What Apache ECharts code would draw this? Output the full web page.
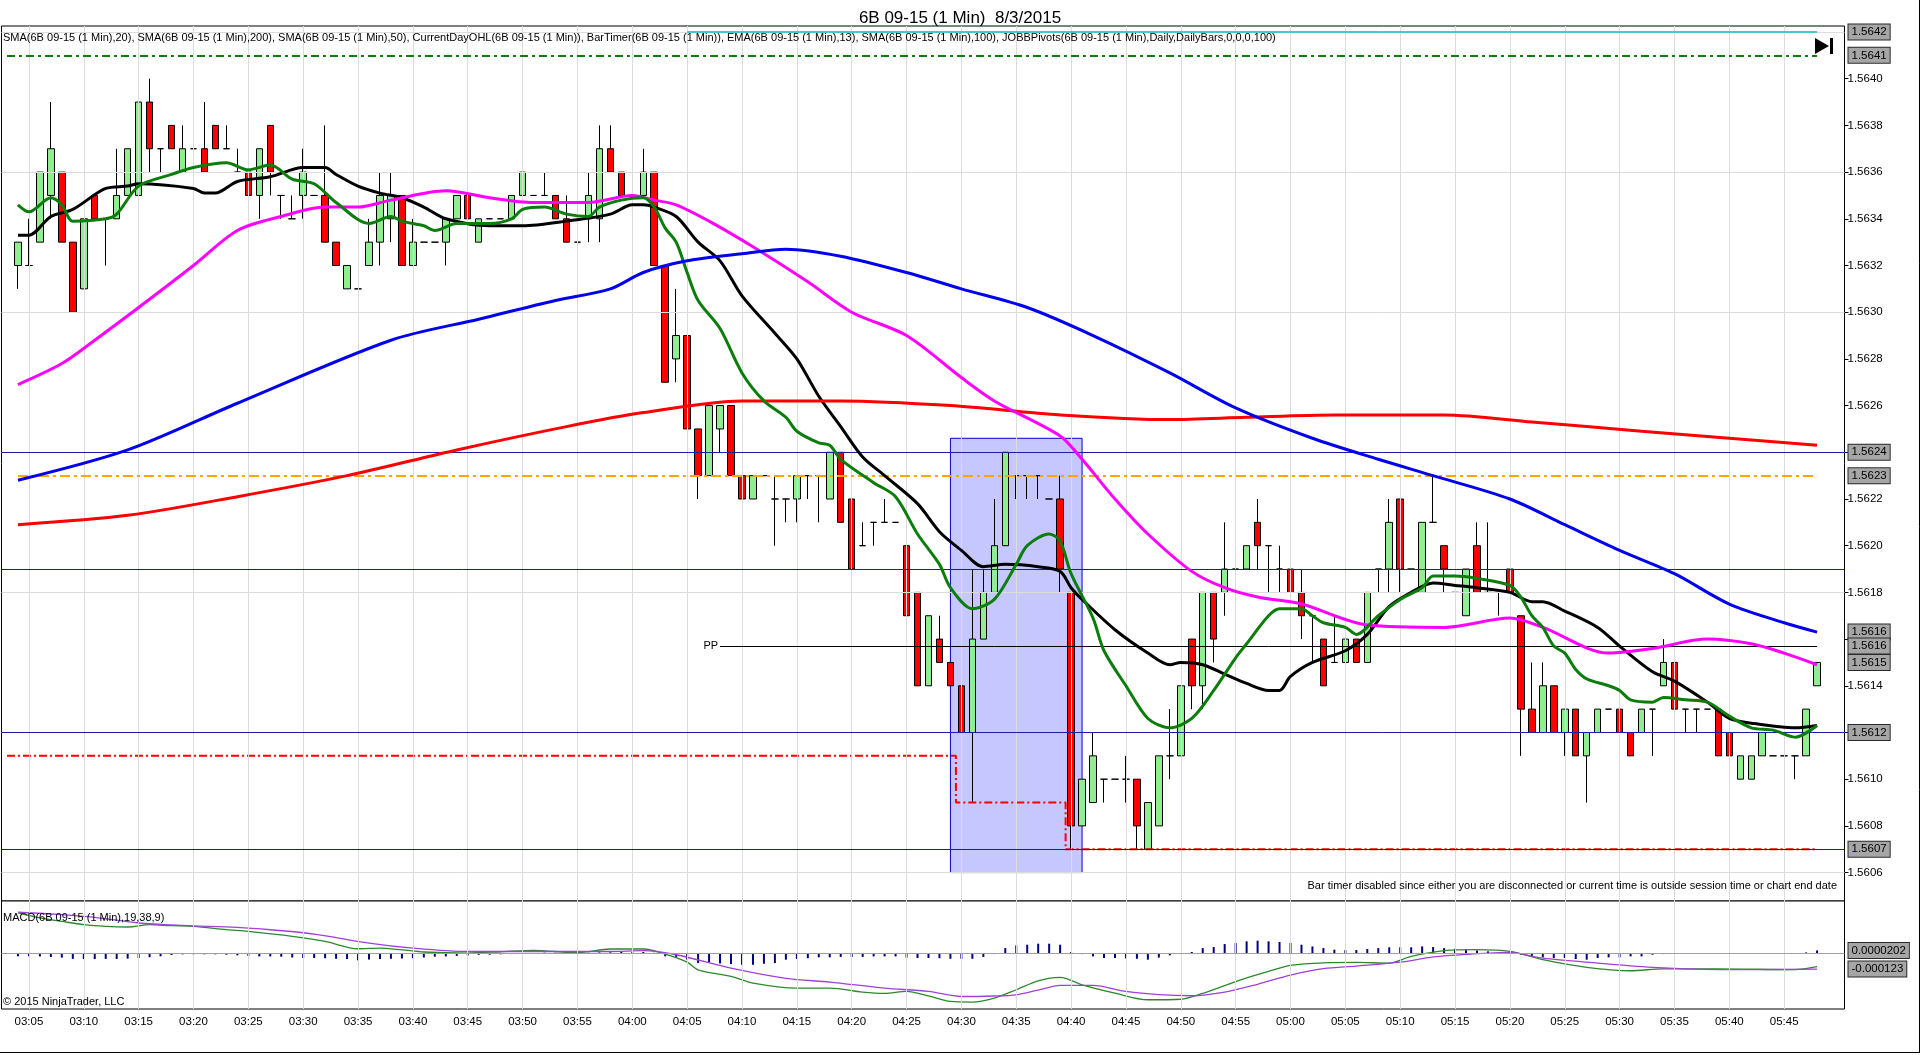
<!DOCTYPE html>
<html><head><meta charset="utf-8">
<script src="https://cdn.jsdelivr.net/npm/echarts@6/dist/echarts.min.js"></script>
<style>html,body{margin:0;padding:0;background:#fff}#c{width:1920px;height:1055px}</style>
</head><body><div id="c"></div>
<script>
// ---------- categories (one empty slot before, two after the bars) ----------
const times = ['03:03','03:04','03:05','03:06','03:07','03:08','03:09',
'03:10','03:11','03:12','03:13','03:14','03:15','03:16','03:17','03:18','03:19',
'03:20','03:21','03:22','03:23','03:24','03:25','03:26','03:27','03:28','03:29',
'03:30','03:31','03:32','03:33','03:34','03:35','03:36','03:37','03:38','03:39',
'03:40','03:41','03:42','03:43','03:44','03:45','03:46','03:47','03:48','03:49',
'03:50','03:51','03:52','03:53','03:54','03:55','03:56','03:57','03:58','03:59',
'04:00','04:01','04:02','04:03','04:04','04:05','04:06','04:07','04:08','04:09',
'04:10','04:11','04:12','04:13','04:14','04:15','04:16','04:17','04:18','04:19',
'04:20','04:21','04:22','04:23','04:24','04:25','04:26','04:27','04:28','04:29',
'04:30','04:31','04:32','04:33','04:34','04:35','04:36','04:37','04:38','04:39',
'04:40','04:41','04:42','04:43','04:44','04:45','04:46','04:47','04:48','04:49',
'04:50','04:51','04:52','04:53','04:54','04:55','04:56','04:57','04:58','04:59',
'05:00','05:01','05:02','05:03','05:04','05:05','05:06','05:07','05:08','05:09',
'05:10','05:11','05:12','05:13','05:14','05:15','05:16','05:17','05:18','05:19',
'05:20','05:21','05:22','05:23','05:24','05:25','05:26','05:27','05:28','05:29',
'05:30','05:31','05:32','05:33','05:34','05:35','05:36','05:37','05:38','05:39',
'05:40','05:41','05:42','05:43','05:44','05:45','05:46','05:47','05:48','05:49','05:50'];
const timeLabels = ['03:05','03:10','03:15','03:20','03:25','03:30','03:35','03:40','03:45','03:50','03:55',
'04:00','04:05','04:10','04:15','04:20','04:25','04:30','04:35','04:40','04:45','04:50','04:55',
'05:00','05:05','05:10','05:15','05:20','05:25','05:30','05:35','05:40','05:45'];
const OFF = 1; // bar index 0 (03:04) sits on category 1

// ---------- bars: [open, high, low, close], 03:04 .. 05:48 ----------
const ohlc = [
[1.5632,1.5633,1.5631,1.5633],
[1.5632,1.5634,1.5632,1.5632],[1.5633,1.5636,1.5633,1.5636],[1.5635,1.5639,1.5634,1.5637],[1.5636,1.5636,1.5633,1.5633],[1.5633,1.5633,1.5630,1.5630],
[1.5631,1.5634,1.5631,1.5634],[1.5635,1.5635,1.5634,1.5634],[1.5634,1.5634,1.5632,1.5634],[1.5634,1.5637,1.5634,1.5635],[1.5635,1.5637,1.5635,1.5637],
[1.5635,1.5639,1.5635,1.5639],[1.5639,1.5640,1.5636,1.5637],[1.5637,1.5637,1.5636,1.5637],[1.5638,1.5638,1.5637,1.5637],[1.5636,1.5638,1.5636,1.5637],
[1.5637,1.5639,1.5636,1.5637],[1.5637,1.5639,1.5636,1.5636],[1.5638,1.5638,1.5637,1.5637],[1.5637,1.5638,1.5637,1.5637],[1.5636,1.5637,1.5636,1.5636],
[1.5636,1.5636,1.5635,1.5635],[1.5635,1.5637,1.5634,1.5637],[1.5638,1.5638,1.5635,1.5636],[1.5635,1.5635,1.5634,1.5635],[1.5634,1.5635,1.5634,1.5634],
[1.5635,1.5637,1.5634,1.5636],[1.5635,1.5635,1.5635,1.5635],[1.5635,1.5638,1.5633,1.5633],[1.5633,1.5633,1.5632,1.5632],[1.5631,1.5632,1.5631,1.5632],
[1.5631,1.5631,1.5631,1.5631],[1.5632,1.5634,1.5632,1.5633],[1.5633,1.5636,1.5632,1.5635],[1.5634,1.5636,1.5633,1.5635],[1.5635,1.5635,1.5632,1.5632],
[1.5632,1.5634,1.5632,1.5633],[1.5633,1.5633,1.5633,1.5633],[1.5633,1.5633,1.5633,1.5633],[1.5633,1.5634,1.5632,1.5634],[1.5634,1.5635,1.5634,1.5635],
[1.5635,1.5635,1.5634,1.5634],[1.5633,1.5634,1.5633,1.5634],[1.5634,1.5634,1.5634,1.5634],[1.5634,1.5634,1.5634,1.5634],[1.5634,1.5635,1.5634,1.5635],
[1.5635,1.5636,1.5635,1.5636],[1.5635,1.5635,1.5635,1.5635],[1.5635,1.5636,1.5635,1.5635],[1.5635,1.5635,1.5634,1.5634],[1.5634,1.5635,1.5633,1.5633],
[1.5633,1.5633,1.5632,1.5633],[1.5634,1.5636,1.5633,1.5635],[1.5634,1.5638,1.5633,1.5637],[1.5637,1.5638,1.5636,1.5636],[1.5636,1.5636,1.5635,1.5635],
[1.5635,1.5637,1.5633,1.5635],[1.5635,1.5637,1.5635,1.5636],[1.5636,1.5636,1.5632,1.5632],[1.5632,1.5632,1.5627,1.5627],[1.5628,1.5631,1.5627,1.5629],
[1.5629,1.5629,1.5625,1.5625],[1.5625,1.5625,1.5622,1.5623],[1.5623,1.5626,1.5623,1.5626],[1.5625,1.5626,1.5624,1.5626],[1.5626,1.5626,1.5623,1.5623],
[1.5623,1.5623,1.5622,1.5622],[1.5622,1.5623,1.5622,1.5623],[1.5623,1.5623,1.5623,1.5623],[1.5622,1.5623,1.5620,1.5622],[1.5622,1.5622,1.5621,1.5622],
[1.5622,1.5623,1.5621,1.5623],[1.5623,1.5623,1.5622,1.5623],[1.5623,1.5623,1.5621,1.5623],[1.5622,1.5624,1.5622,1.5624],[1.5624,1.5624,1.5621,1.5621],
[1.5622,1.5622,1.5619,1.5619],[1.5620,1.5621,1.5620,1.5620],[1.5621,1.5621,1.5620,1.5621],[1.5621,1.5622,1.5621,1.5621],[1.5621,1.5621,1.5621,1.5621],
[1.5620,1.5620,1.5617,1.5617],[1.5618,1.5618,1.5614,1.5614],[1.5614,1.5617,1.5614,1.5617],[1.5616,1.5617,1.5615,1.5615],[1.5615,1.5615,1.5614,1.5614],
[1.5614,1.5616,1.5609,1.5612],[1.5612,1.5619,1.5609,1.5616],[1.5616,1.5619,1.5616,1.5618],[1.5618,1.5622,1.5618,1.5620],[1.5620,1.5624,1.5620,1.5624],
[1.5623,1.5623,1.5622,1.5623],[1.5623,1.5623,1.5622,1.5623],[1.5623,1.5623,1.5622,1.5623],[1.5622,1.5622,1.5622,1.5622],[1.5622,1.5623,1.5618,1.5619],
[1.5618,1.5618,1.5607,1.5608],[1.5608,1.5610,1.5608,1.5610],[1.5609,1.5612,1.5609,1.5611],[1.5610,1.5610,1.5609,1.5610],[1.5610,1.5610,1.5610,1.5610],
[1.5610,1.5611,1.5609,1.5610],[1.5610,1.5610,1.5607,1.5608],[1.5607,1.5609,1.5607,1.5609],[1.5608,1.5611,1.5608,1.5611],[1.5611,1.5613,1.5610,1.5611],
[1.5611,1.5614,1.5611,1.5614],[1.5616,1.5616,1.5613,1.5614],[1.5614,1.5618,1.5613,1.5618],[1.5618,1.5618,1.5615,1.5616],[1.5618,1.5621,1.5617,1.5619],
[1.5619,1.5619,1.5617,1.5619],[1.5619,1.5620,1.5619,1.5620],[1.5621,1.5622,1.5619,1.5620],[1.5620,1.5620,1.5618,1.5620],[1.5619,1.5620,1.5618,1.5619],
[1.5619,1.5620,1.5618,1.5618],[1.5618,1.5619,1.5616,1.5617],[1.5617,1.5617,1.5615,1.5617],[1.5616,1.5616,1.5614,1.5614],[1.5615,1.5617,1.5615,1.5615],
[1.5615,1.5617,1.5615,1.5616],[1.5616,1.5616,1.5615,1.5615],[1.5615,1.5618,1.5615,1.5618],[1.5619,1.5619,1.5618,1.5619],[1.5619,1.5622,1.5618,1.5621],
[1.5622,1.5622,1.5618,1.5619],[1.5619,1.5619,1.5619,1.5619],[1.5618,1.5621,1.5618,1.5621],[1.5621,1.5623,1.5621,1.5621],[1.5620,1.5620,1.5618,1.5619],
[1.5618,1.5618,1.5618,1.5618],[1.5617,1.5619,1.5617,1.5619],[1.5620,1.5621,1.5618,1.5618],[1.5618,1.5621,1.5618,1.5618],[1.5618,1.5618,1.5617,1.5618],
[1.5619,1.5619,1.5618,1.5618],[1.5617,1.5617,1.5611,1.5613],[1.5613,1.5615,1.5612,1.5612],[1.5612,1.5615,1.5612,1.5614],[1.5614,1.5614,1.5612,1.5612],
[1.5612,1.5613,1.5611,1.5613],[1.5613,1.5613,1.5611,1.5611],[1.5611,1.5612,1.5609,1.5612],[1.5612,1.5613,1.5612,1.5613],[1.5613,1.5613,1.5613,1.5613],
[1.5613,1.5613,1.5610,1.5612],[1.5612,1.5612,1.5611,1.5611],[1.5612,1.5613,1.5612,1.5613],[1.5613,1.5613,1.5611,1.5613],[1.5614,1.5616,1.5614,1.5615],
[1.5615,1.5615,1.5613,1.5613],[1.5613,1.5613,1.5612,1.5613],[1.5613,1.5613,1.5612,1.5613],[1.5613,1.5613,1.5613,1.5613],[1.5613,1.5613,1.5611,1.5611],
[1.5612,1.5612,1.5610,1.5611],[1.5610,1.5611,1.5610,1.5611],[1.5610,1.5611,1.5610,1.5611],[1.5611,1.5612,1.5611,1.5612],[1.5611,1.5611,1.5611,1.5611],
[1.5611,1.5611,1.5611,1.5611],[1.5611,1.5611,1.5610,1.5611],[1.5611,1.5613,1.5611,1.5613],[1.5614,1.5615,1.5614,1.5615]
];

// ---------- moving averages: [bar index, price] ----------
const sma20 = [[0,1.56333],[1,1.56333],[3,1.56341],[5,1.56344],[8,1.56353],[10,1.56354],[11,1.56355],[16,1.56353],[17,1.56351],[18,1.56351],[20,1.56356],[23,1.56358],[26,1.56362],[28,1.56362],[29,1.56359],[31,1.56354],[33,1.56351],[35,1.56349],[37,1.56345],[39,1.5634],[43,1.56337],[46,1.56337],[50,1.56339],[54,1.56342],[56,1.56346],[57,1.56346],[58,1.56345],[60,1.56341],[62,1.5633],[64,1.56322],[66,1.56307],[69,1.56291],[71,1.5628],[73,1.56264],[75,1.56251],[77,1.56238],[79,1.5623],[82,1.56218],[84,1.56206],[86,1.56198],[88,1.56191],[90,1.56192],[93,1.56191],[95,1.56189],[96,1.56182],[97,1.56177],[100,1.56164],[103,1.56154],[105,1.56149],[106,1.5615],[108,1.56149],[110,1.56145],[112,1.56141],[114,1.56138],[115,1.56138],[116,1.56144],[118,1.5615],[121,1.56155],[123,1.56162],[125,1.56174],[127,1.5618],[129,1.56184],[131,1.56183],[133,1.56182],[136,1.5618],[138,1.56176],[139,1.56176],[141,1.56172],[144,1.56165],[146,1.56157],[149,1.56146],[151,1.56142],[154,1.56133],[156,1.56126],[158,1.56124],[162,1.56122],[164,1.56123]];
const sma200 = [[0,1.56209],[10,1.56213],[20,1.56221],[30,1.5623],[40,1.56241],[50,1.56251],[57,1.56257],[66,1.56262],[75,1.56262],[85,1.5626],[95,1.56256],[105,1.56254],[112,1.56255],[120,1.56256],[130,1.56256],[138,1.56253],[148,1.56249],[156,1.56246],[164,1.56243]];
const sma50 = [[0,1.56269],[4,1.56278],[7,1.56288],[11,1.56302],[16,1.5632],[20,1.56335],[24,1.56341],[28,1.56345],[31,1.56345],[34,1.56348],[39,1.56352],[43,1.56349],[47,1.56347],[52,1.56347],[56,1.5635],[58,1.56348],[60,1.56346],[63,1.56339],[67,1.56328],[72,1.56313],[76,1.563],[81,1.5629],[86,1.56272],[89,1.56262],[95,1.56247],[97,1.56237],[100,1.5622],[103,1.56205],[107,1.56189],[110,1.56182],[113,1.56178],[117,1.56175],[123,1.56166],[130,1.56165],[136,1.56169],[139,1.56165],[145,1.56154],[149,1.56156],[154,1.5616],[158,1.56158],[161,1.56154],[164,1.56149]];
const ema13 = [[0,1.56346],[1,1.56343],[3,1.56349],[4,1.56346],[5,1.56339],[8,1.5634],[9,1.56342],[11,1.56354],[14,1.56359],[16,1.56362],[19,1.56364],[21,1.56361],[23,1.56363],[25,1.56357],[27,1.56355],[29,1.56347],[32,1.56338],[34,1.56341],[35,1.56339],[37,1.56337],[38,1.56335],[40,1.56338],[43,1.56338],[45,1.5634],[46,1.56344],[48,1.56345],[50,1.56342],[52,1.56341],[53,1.56345],[55,1.56348],[57,1.56349],[58,1.56345],[59,1.56336],[60,1.5633],[61,1.56317],[62,1.56305],[64,1.56293],[66,1.56274],[68,1.56262],[70,1.56255],[71,1.56249],[73,1.56244],[74,1.56243],[75,1.56237],[78,1.56227],[80,1.56221],[82,1.56205],[84,1.56192],[85,1.56182],[87,1.56173],[89,1.56177],[91,1.56192],[92,1.562],[94,1.56205],[95,1.56202],[96,1.56188],[98,1.56169],[99,1.56155],[101,1.5614],[103,1.56126],[105,1.56122],[107,1.56126],[109,1.56138],[111,1.56152],[112,1.56158],[114,1.5617],[115,1.56173],[117,1.56173],[118,1.5617],[119,1.56167],[121,1.56165],[122,1.56162],[124,1.5617],[126,1.56177],[128,1.56182],[129,1.56187],[131,1.56187],[133,1.56186],[136,1.56183],[137,1.56178],[138,1.5617],[139,1.56165],[140,1.56157],[141,1.56154],[142,1.56147],[143,1.56143],[145,1.5614],[146,1.56138],[147,1.56134],[149,1.56133],[150,1.56135],[152,1.56134],[154,1.56133],[156,1.56127],[158,1.56122],[160,1.56121],[162,1.56118],[164,1.56123]];
const sma100 = [[0,1.56228],[10,1.56241],[20,1.56261],[34,1.56288],[42,1.56297],[49,1.56305],[54,1.5631],[57,1.56317],[61,1.56322],[66,1.56325],[70,1.56327],[75,1.56324],[81,1.56317],[86,1.5631],[92,1.56302],[98,1.5629],[105,1.56274],[111,1.56259],[118,1.56246],[124,1.56237],[129,1.5623],[136,1.5622],[141,1.56209],[146,1.56198],[151,1.56188],[156,1.56175],[161,1.56167],[164,1.56163]];

// ---------- levels ----------
const dayLow = [[-1,1.5611],[85,1.5611],[86,1.5609],[95,1.5609],[96,1.5607],[164,1.5607]];
const blueLevels = [1.5624, 1.5619, 1.5612, 1.5607];
const dayOpen = 1.5623, dayHigh = 1.5641, topLevel = 1.5642, ppLevel = 1.56157;
const priceTicks = [1.5606,1.5608,1.5610,1.5612,1.5614,1.5616,1.5618,1.5620,1.5622,1.5624,1.5626,1.5628,1.5630,1.5632,1.5634,1.5636,1.5638,1.5640];
const gridLevels = [1.5606,1.5612,1.5618,1.5624,1.5630,1.5636,1.5642];
const priceTags = [1.5642,1.5641,1.5624,1.5623,1.56163,1.56157,1.5615,1.5612,1.5607];
const boxArea = {from:'04:29', to:'04:41', top:1.56246, bottom:1.5606};

// ---------- MACD(19,38,9), values in units of 0.00001 ----------
const macdLine = [[0,30.8],[2,27],[4,24.3],[6,21.8],[8,20.5],[10,20],[12,21.8],[14,21],[16,20.5],[19,18],[21,16.6],[25,12.8],[28,8.9],[31,3.3],[33,3.8],[35,2.5],[37,0.8],[41,0],[44,1],[47,2.1],[51,0.3],[54,3.1],[57,3.1],[59,-0.8],[61,-7],[62,-12.9],[65,-18],[67,-23.1],[71,-26.9],[74,-26.9],[77,-30],[79,-31],[81,-29.5],[83,-33],[85,-37.2],[87,-37.7],[89,-34.6],[91,-28.2],[93,-21.3],[95,-18.7],[97,-24.4],[100,-30.8],[103,-35.9],[106,-35.5],[108,-31],[110,-25],[112,-19],[114,-14],[116,-9.5],[119,-7.5],[122,-7.2],[125,-7.7],[127,-2.6],[130,1.8],[133,2.6],[136,1.3],[139,-5.1],[143,-11],[147,-13.6],[150,-12.1],[155,-12.1],[162,-12.8],[164,-10.5]];
const macdAvg = [[0,31.5],[4,29.5],[7,27.4],[11,23.1],[15,21.2],[20,19.7],[23,17.9],[27,14.6],[32,7.7],[36,3.8],[41,1.2],[45,1.2],[50,1.2],[54,1.2],[57,1.8],[60,-1.3],[65,-11.6],[70,-19.4],[74,-22.3],[79,-26.9],[83,-29.5],[86,-33.4],[89,-33],[91,-32.1],[93,-28.5],[95,-24.9],[98,-24.9],[101,-29.5],[104,-32],[107,-32.8],[110,-30],[113,-24],[116,-17],[119,-12],[122,-10],[126,-7],[129,-3],[132,-1],[136,0.5],[139,-3.9],[144,-7.7],[149,-11],[152,-12.1],[158,-12.8],[164,-12.3]];
const macdDiff = [-2.5,-2.5,-2.6,-3.0,-3.5,-4.5,-4.6,-4.6,-4.5,-4.5,-4.3,-3.8,-3.2,-2.5,-1.5,-1.0,-1.0,-1.0,-1.0,-1.3,
-1.8,-2.2,-2.6,-2.6,-2.8,-3.4,-3.8,-3.8,-4.0,-4.4,-4.6,-5.6,-5.0,-4.6,-4.4,-4.2,-4.0,-3.4,-2.8,-2.6,
-2.2,-1.8,-1.4,-1.3,-1.0,-0.8,-0.4,-0.2,0.3,0.2,-0.2,-0.2,0.2,0.5,0.6,0.8,0.9,0.8,0.2,-2.5,
-3.3,-5.0,-7.7,-7.0,-8.0,-8.5,-9.0,-9.0,-8.2,-7.7,-5.1,-4.5,-4.0,-3.3,-3.3,-3.0,-3.0,-3.0,-2.6,-2.6,
-2.6,-3.5,-3.8,-3.8,-4.0,-4.4,-4.4,-4.4,-3.0,-0.8,3.8,5.9,6.4,7.2,7.2,6.4,0.8,-0.8,-2.6,-3.8,
-3.8,-4.2,-4.4,-5.1,-3.5,-1.8,-0.8,0.8,3.8,4.6,6.9,7.7,9.0,9.5,9.0,8.5,7.7,6.4,5.1,3.8,
2.6,2.3,2.3,3.1,3.8,4.4,4.4,4.4,5.1,4.6,3.8,3.3,2.6,2.0,1.3,0.8,0.0,-1.3,-2.6,-3.3,
-3.8,-3.8,-4.6,-5.1,-3.8,-3.3,-3.3,-2.6,-2.6,-1.3,-0.8,-0.5,-0.5,-0.4,-0.3,-0.3,-0.4,-0.3,-0.3,-0.2,
-0.3,-0.3,-0.2,0.5,2.02];
const macdTags = [2.02, -12.3];

// ---------- texts ----------
const titleText = '6B 09-15 (1 Min)  8/3/2015';
const legendText = 'SMA(6B 09-15 (1 Min),20), SMA(6B 09-15 (1 Min),200), SMA(6B 09-15 (1 Min),50), CurrentDayOHL(6B 09-15 (1 Min)), BarTimer(6B 09-15 (1 Min)), EMA(6B 09-15 (1 Min),13), SMA(6B 09-15 (1 Min),100), JOBBPivots(6B 09-15 (1 Min),Daily,DailyBars,0,0,0,100)';
const macdTitle = 'MACD(6B 09-15 (1 Min),19,38,9)';
const copyright = '\u00A9 2015 NinjaTrader, LLC';
const barTimerText = 'Bar timer disabled since either you are disconnected or current time is outside session time or chart end date';

// ---------- build ----------
const FONT = 'Liberation Sans';
const pts = arr => arr.map(p => [p[0] + OFF, p[1]]);
const firstBar = times[OFF], lastBar = times[OFF + ohlc.length - 1];
const candles = ['-'].concat(ohlc.map(r => [r[0], r[3], r[2], r[1]]), ['-', '-']);
const diffData = ['-'].concat(macdDiff, ['-', '-']);
const vGrid = timeLabels.map(t => ({xAxis: t}));
const noLabel = {show: false};
const isLabel = (i, v) => timeLabels.indexOf(v) >= 0;
function maLine(name, data, color, z) {
  return {name, type: 'line', xAxisIndex: 0, yAxisIndex: 0, data: pts(data), showSymbol: false,
    smooth: 0.3, silent: true, z, lineStyle: {color, width: 3}};
}
function tagLabel() {
  return {show: true, position: 'end', distance: 4, formatter: '{b}', backgroundColor: '#a6a6a6',
    borderColor: '#2a2a2a', borderWidth: 1, padding: [2, 3, 1, 3], color: '#000', fontSize: 11.5, fontFamily: FONT};
}

const chart = echarts.init(document.getElementById('c'), null, {renderer: 'canvas', width: 1920, height: 1055});
const yMin = 1.5604783, yMax = 1.5642257;
chart.setOption({
  animation: false,
  backgroundColor: '#fff',
  title: {text: titleText, left: 'center', top: 5, textStyle: {fontSize: 17, fontWeight: 'normal', color: '#000', fontFamily: FONT}},
  grid: [
    {left: 1.5, right: 75.5, top: 26, height: 875, show: true, borderColor: '#000', borderWidth: 1, backgroundColor: '#fff'},
    {left: 1.5, right: 75.5, top: 901, height: 108, show: true, borderColor: '#000', borderWidth: 1, backgroundColor: '#fff'}
  ],
  xAxis: [
    {gridIndex: 0, type: 'category', data: times, boundaryGap: true, axisLine: {show: false}, axisTick: {show: false}, axisLabel: {show: false}, splitLine: {show: false}},
    {gridIndex: 1, type: 'category', data: times, boundaryGap: true, axisLine: {show: false},
      axisTick: {show: true, interval: isLabel, alignWithLabel: true, length: 4, lineStyle: {color: '#000'}},
      axisLabel: {show: true, interval: isLabel, color: '#000', fontSize: 11.5, fontFamily: FONT, margin: 7},
      splitLine: {show: false}}
  ],
  yAxis: [
    {gridIndex: 0, type: 'value', position: 'right', min: yMin, max: yMax, scale: true,
      axisLine: {show: false},
      axisTick: {show: true, customValues: priceTicks, length: 4, lineStyle: {color: '#000'}},
      axisLabel: {show: true, customValues: priceTicks, formatter: v => Number(v).toFixed(4), color: '#000', fontSize: 11.5, fontFamily: FONT, margin: 3},
      splitLine: {show: false}},
    {gridIndex: 1, type: 'value', position: 'right', min: -43, max: 40, axisLine: {show: false}, axisTick: {show: false}, axisLabel: {show: false}, splitLine: {show: false}}
  ],
  series: [
    // main grid lines
    {type: 'line', xAxisIndex: 0, yAxisIndex: 0, data: [], z: 1, silent: true,
      markLine: {silent: true, symbol: ['none', 'none'], precision: 6, label: noLabel, lineStyle: {color: '#dcdcdc', width: 1, type: 'solid'},
        data: gridLevels.map(v => ({yAxis: v})).concat(vGrid)}},
    // candles
    {type: 'candlestick', xAxisIndex: 0, yAxisIndex: 0, data: candles, barWidth: 7, z: 3, silent: true,
      itemStyle: {color: '#90ee90', color0: '#ff0000', borderColor: '#000', borderColor0: '#000', borderWidth: 1}},
    // horizontal price levels
    {type: 'line', xAxisIndex: 0, yAxisIndex: 0, data: [], z: 4, silent: true,
      markLine: {silent: true, symbol: ['none', 'none'], precision: 6, label: noLabel,
        data: blueLevels.map(v => ({yAxis: v, lineStyle: {color: '#1c1caa', width: 1, type: 'solid'}})).concat([
          [{coord: [firstBar, dayOpen], lineStyle: {color: '#ffa500', width: 2, type: [10, 4, 3, 4]}}, {coord: [lastBar, dayOpen]}],
          [{coord: [times[0], dayHigh], lineStyle: {color: '#0a800a', width: 2, type: [8, 4, 3, 4]}}, {coord: [lastBar, dayHigh]}],
          [{coord: [times[62], topLevel], lineStyle: {color: '#48c8c8', width: 2, type: 'solid'}}, {coord: [lastBar, topLevel]}],
          [{coord: [times[65], ppLevel], name: 'PP', lineStyle: {color: '#000', width: 1, type: 'solid'},
            label: {show: true, position: 'start', formatter: 'PP', distance: 2, color: '#000', fontSize: 11, fontFamily: FONT}},
           {coord: [lastBar, ppLevel]}]
        ])}},
    // current-day low (stepped)
    {type: 'line', xAxisIndex: 0, yAxisIndex: 0, data: pts(dayLow), step: 'middle', showSymbol: false, silent: true, z: 4,
      lineStyle: {color: '#ff0000', width: 2, type: [8, 3, 2, 3]}},
    maLine('SMA20', sma20, '#000000', 6),
    maLine('SMA200', sma200, '#ff0000', 6),
    maLine('SMA50', sma50, '#ff00ff', 6),
    maLine('EMA13', ema13, '#0a7d0a', 6),
    maLine('SMA100', sma100, '#0000ee', 6),
    // drawn rectangle
    {type: 'line', xAxisIndex: 0, yAxisIndex: 0, data: [], z: 10, silent: true,
      markArea: {silent: true, itemStyle: {color: 'rgba(0,0,255,0.22)', borderColor: '#0000cc', borderWidth: 1},
        data: [[{xAxis: boxArea.from, yAxis: boxArea.top}, {xAxis: boxArea.to, yAxis: boxArea.bottom}]]}},
    // price tags
    {type: 'line', xAxisIndex: 0, yAxisIndex: 0, data: [], z: 20, silent: true,
      markLine: {silent: true, symbol: ['none', 'none'], precision: 6, lineStyle: {color: 'rgba(0,0,0,0)', width: 1},
        label: tagLabel(), data: priceTags.map(v => ({yAxis: v, name: v.toFixed(4)}))}},
    // MACD panel grid + zero line
    {type: 'line', xAxisIndex: 1, yAxisIndex: 1, data: [], z: 1, silent: true,
      markLine: {silent: true, symbol: ['none', 'none'], precision: 6, label: noLabel, lineStyle: {color: '#dcdcdc', width: 1, type: 'solid'},
        data: vGrid.concat([{yAxis: 0, lineStyle: {color: '#a0a0a0', width: 1, type: 'solid'}}])}},
    {type: 'bar', xAxisIndex: 1, yAxisIndex: 1, data: diffData, barWidth: 2, silent: true, z: 3, itemStyle: {color: '#000080'}},
    {type: 'line', xAxisIndex: 1, yAxisIndex: 1, data: pts(macdLine), showSymbol: false, smooth: 0.3, silent: true, z: 4, lineStyle: {color: '#2a8a2a', width: 1.3}},
    {type: 'line', xAxisIndex: 1, yAxisIndex: 1, data: pts(macdAvg), showSymbol: false, smooth: 0.3, silent: true, z: 4, lineStyle: {color: '#a040d8', width: 1.3}},
    {type: 'line', xAxisIndex: 1, yAxisIndex: 1, data: [], z: 20, silent: true,
      markLine: {silent: true, symbol: ['none', 'none'], precision: 6, lineStyle: {color: 'rgba(0,0,0,0)', width: 1},
        label: tagLabel(), data: macdTags.map(v => ({yAxis: v, name: (v * 1e-5).toFixed(v > 0 ? 7 : 6)}))}}
  ],
  graphic: [
    {type: 'text', x: 3, y: 38, z: 30, style: {text: legendText, fontSize: 11, fontFamily: FONT, fill: '#000', verticalAlign: 'middle'}},
    {type: 'text', x: 3, y: 918, z: 30, style: {text: macdTitle, fontSize: 11, fontFamily: FONT, fill: '#000', verticalAlign: 'middle'}},
    {type: 'text', x: 3, y: 1002, z: 30, style: {text: copyright, fontSize: 11, fontFamily: FONT, fill: '#000', verticalAlign: 'middle'}},
    {type: 'text', x: 1837, y: 886, z: 30, style: {text: barTimerText, fontSize: 11, fontFamily: FONT, fill: '#000', align: 'right', verticalAlign: 'middle'}},
    {type: 'polygon', z: 30, shape: {points: [[1815, 38], [1815, 54], [1829, 46]]}, style: {fill: '#000'}},
    {type: 'rect', z: 30, shape: {x: 1830, y: 38, width: 3, height: 16}, style: {fill: '#000'}},
    {type: 'line', z: 30, shape: {x1: 1919.5, y1: 0, x2: 1919.5, y2: 1052.5}, style: {stroke: '#000', lineWidth: 1}},
    {type: 'line', z: 30, shape: {x1: 0, y1: 1052.5, x2: 1920, y2: 1052.5}, style: {stroke: '#000', lineWidth: 1}}
  ]
});
</script>
</body></html>
